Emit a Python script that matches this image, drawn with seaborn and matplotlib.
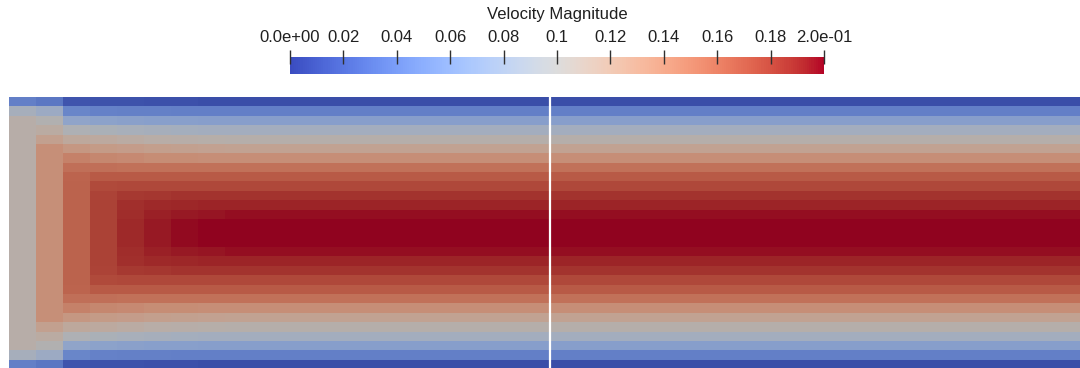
import numpy as np
import pandas as pd
import matplotlib
matplotlib.use("Agg")
import matplotlib.pyplot as plt
import matplotlib as mpl
from matplotlib.colors import ListedColormap, Normalize
import seaborn as sns

sns.set_theme(style="white")
plt.rcParams["font.family"] = ["Liberation Sans", "DejaVu Sans"]

# Velocity magnitude across half the channel height (wall row first, centreline last)
developed_half = [0.010, 0.040, 0.066, 0.088, 0.104, 0.120, 0.137, 0.156,
                  0.168, 0.177, 0.186, 0.192, 0.197, 0.203, 0.206]

# Entrance columns, inlet first: the profile develops from a flat inflow
inlet_half = [
    [0.040, 0.090, 0.106, 0.106, 0.106, 0.106, 0.106, 0.106, 0.106, 0.106, 0.106, 0.106, 0.106, 0.106, 0.106],
    [0.035, 0.082, 0.100, 0.110, 0.122, 0.136, 0.136, 0.136, 0.136, 0.136, 0.136, 0.136, 0.136, 0.136, 0.136],
    [0.014, 0.045, 0.072, 0.097, 0.114, 0.130, 0.146, 0.157, 0.163, 0.164, 0.164, 0.164, 0.164, 0.164, 0.164],
    [0.012, 0.042, 0.070, 0.094, 0.112, 0.127, 0.142, 0.157, 0.168, 0.176, 0.179, 0.180, 0.180, 0.180, 0.180],
    [0.012, 0.041, 0.068, 0.092, 0.109, 0.125, 0.140, 0.156, 0.168, 0.177, 0.184, 0.188, 0.189, 0.190, 0.190],
    [0.011, 0.041, 0.067, 0.090, 0.107, 0.123, 0.138, 0.156, 0.168, 0.177, 0.185, 0.190, 0.193, 0.195, 0.195],
    [0.011, 0.040, 0.067, 0.089, 0.106, 0.122, 0.138, 0.156, 0.168, 0.177, 0.186, 0.191, 0.195, 0.198, 0.198],
    [0.010, 0.040, 0.066, 0.088, 0.105, 0.121, 0.137, 0.156, 0.168, 0.177, 0.186, 0.192, 0.196, 0.200, 0.201],
    [0.010, 0.040, 0.066, 0.088, 0.104, 0.120, 0.137, 0.156, 0.168, 0.177, 0.186, 0.192, 0.197, 0.202, 0.203],
]
n_columns = 40

cbar_ticks = [0.0, 0.02, 0.04, 0.06, 0.08, 0.10, 0.12, 0.14, 0.16, 0.18, 0.20]
cbar_labels = ["0.0e+00", "0.02", "0.04", "0.06", "0.08", "0.1", "0.12",
               "0.14", "0.16", "0.18", "2.0e-01"]
cbar_title = "Velocity Magnitude"


def full_profile(half):
    half = np.asarray(half)
    return np.concatenate([half, half[-2::-1]])


columns = [full_profile(h) for h in inlet_half]
columns += [full_profile(developed_half)] * (n_columns - len(columns))
field = pd.DataFrame(np.column_stack(columns))

# Shaded surface: the lit mesh renders darker than the legend's colours
base = mpl.colormaps["coolwarm"](np.linspace(0, 1, 256))
shaded = base.copy()
shaded[:, :3] *= 0.80
shaded_cmap = ListedColormap(shaded)

W, H = 1080, 368
fig = plt.figure(figsize=(W / 100, H / 100), dpi=100)

x0, y0 = 9, 97
cell_w, cell_h = 27.05, 9.38
n_rows = field.shape[0]
ax = fig.add_axes([x0 / W, (H - (y0 + n_rows * cell_h)) / H,
                   n_columns * cell_w / W, n_rows * cell_h / H])
sns.heatmap(field, ax=ax, cmap=shaded_cmap, vmin=0.0, vmax=0.2, cbar=False,
            xticklabels=False, yticklabels=False, linewidths=0)
ax.axvline(20, color="white", lw=1.6)
ax.set_xlabel("")
ax.set_ylabel("")

# Colour legend
cax = fig.add_axes([290 / W, (H - 74) / H, 534 / W, 17 / H])
cb = fig.colorbar(mpl.cm.ScalarMappable(norm=Normalize(0, 0.2), cmap="coolwarm"),
                  cax=cax, orientation="horizontal", ticklocation="top")
cb.outline.set_visible(False)
cb.solids.set_zorder(0)
cax.set_axisbelow(False)
cb.set_ticks(cbar_ticks)
cb.set_ticklabels(cbar_labels)
cax.tick_params(axis="x", direction="inout", length=9.5, width=1.0, color="#303030",
                labelsize=12, labelcolor="#202020", pad=4)
cax.xaxis.set_ticks_position("top")
fig.text(557 / W, 1 - 15 / H, cbar_title, ha="center", va="center",
         fontsize=12, color="#202020")

fig.savefig("out.png", dpi=100)
